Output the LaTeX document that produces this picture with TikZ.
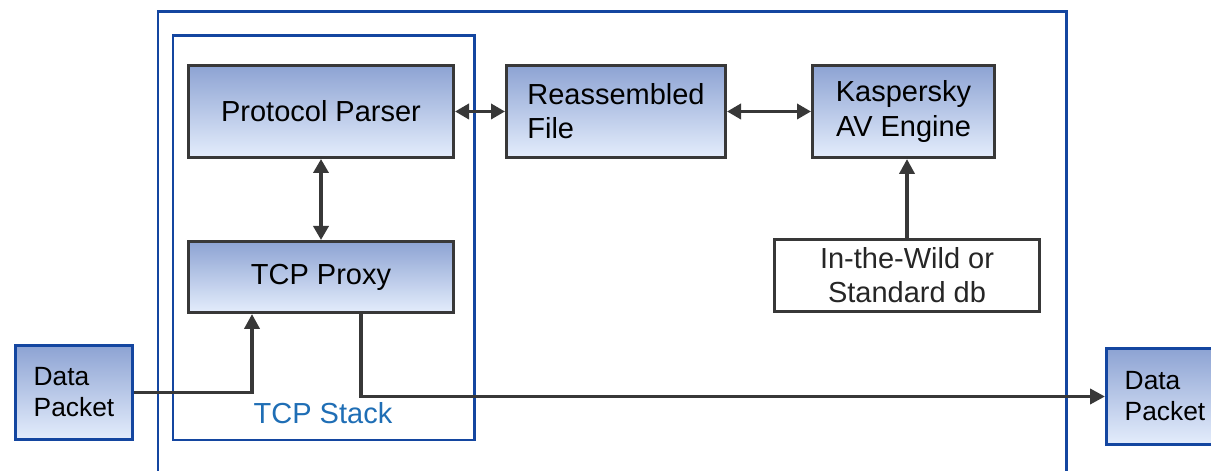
\documentclass[tikz,border=0pt]{standalone}
\usepackage{fontspec}
\setmainfont{Liberation Sans}
\usepackage{xcolor}
\usetikzlibrary{arrows.meta, calc}

\definecolor{frameblue}{HTML}{1446A0}
\definecolor{labelblue}{HTML}{1F6EB5}
\definecolor{boxline}{HTML}{383838}
\definecolor{shadetop}{HTML}{8DA3D3}
\definecolor{shadebot}{HTML}{E4EDFC}

\begin{document}
\begin{tikzpicture}[
    block/.style={draw=boxline, line width=1.7pt, top color=shadetop, bottom color=shadebot,
        inner sep=0pt, font=\fontsize{16.5}{19.5}\selectfont},
    dbbox/.style={draw=boxline, line width=1.7pt, fill=white, inner sep=0pt,
        align=center, text=black!85, font=\fontsize{16.5}{19.5}\selectfont},
    packet/.style={draw=frameblue, line width=1.7pt, top color=shadetop, bottom color=shadebot,
        inner sep=0pt, align=left, minimum width=2.34cm, font=\fontsize{15}{17.6}\selectfont},
    conn/.style={boxline, line width=2.2pt, -{Triangle[length=0.3cm, width=0.3cm]}},
    dconn/.style={boxline, line width=2.2pt,
        {Triangle[length=0.28cm, width=0.3cm]}-{Triangle[length=0.28cm, width=0.3cm]}}
]

    % ==========================================
    % PAGE SIZE & FRAMES
    % ==========================================

    \useasboundingbox (0,0) rectangle (24.22,9.42);

    % Outer frame (runs off the bottom edge)
    \draw[frameblue, line width=1.7pt] (3.16,-0.2) -- (3.16,9.18) -- (21.32,9.18) -- (21.32,-0.2);

    % TCP stack frame and its label
    \draw[frameblue, line width=1.7pt] (3.46,0.62) rectangle (9.48,8.70);
    \node[text=labelblue, font=\fontsize{16.5}{19.5}\selectfont] (stacklabel) at (6.46,1.16) {TCP Stack};

    % ==========================================
    % BLOCKS
    % ==========================================

    \node[block, minimum width=5.30cm, minimum height=1.84cm] (parser) at (6.42,7.19) {Protocol Parser};
    \node[block, minimum width=4.38cm, minimum height=1.84cm, align=left] (file) at (12.32,7.19) {Reassembled\\File};
    \node[block, minimum width=3.64cm, minimum height=1.84cm, align=center] (engine) at (18.07,7.19) {Kaspersky\\AV Engine};
    \node[block, minimum width=5.30cm, minimum height=1.42cm] (proxy) at (6.42,3.88) {TCP Proxy};
    \node[dbbox, minimum width=5.30cm, minimum height=1.44cm] (db) at (18.14,3.91) {In-the-Wild or\\Standard db};

    % Data packets, in and out
    \node[packet, minimum height=1.88cm] (packetin) at (1.48,1.57) {Data\\Packet};
    \node[packet, minimum height=1.92cm] (packetout) at (23.30,1.49) {Data\\Packet};

    % ==========================================
    % CONNECTORS
    % ==========================================

    \draw[dconn] (parser) -- (file);
    \draw[dconn] (file) -- (engine);
    \draw[dconn] (parser) -- (proxy);
    \draw[conn] (db.north) -- (db.north |- engine.south);

    % Packet path through the proxy
    \draw[conn] (packetin.east) -| ([xshift=-1.38cm]proxy.south);
    \draw[conn] ([xshift=0.8cm]proxy.south) |- (packetout.west);

\end{tikzpicture}
\end{document}
